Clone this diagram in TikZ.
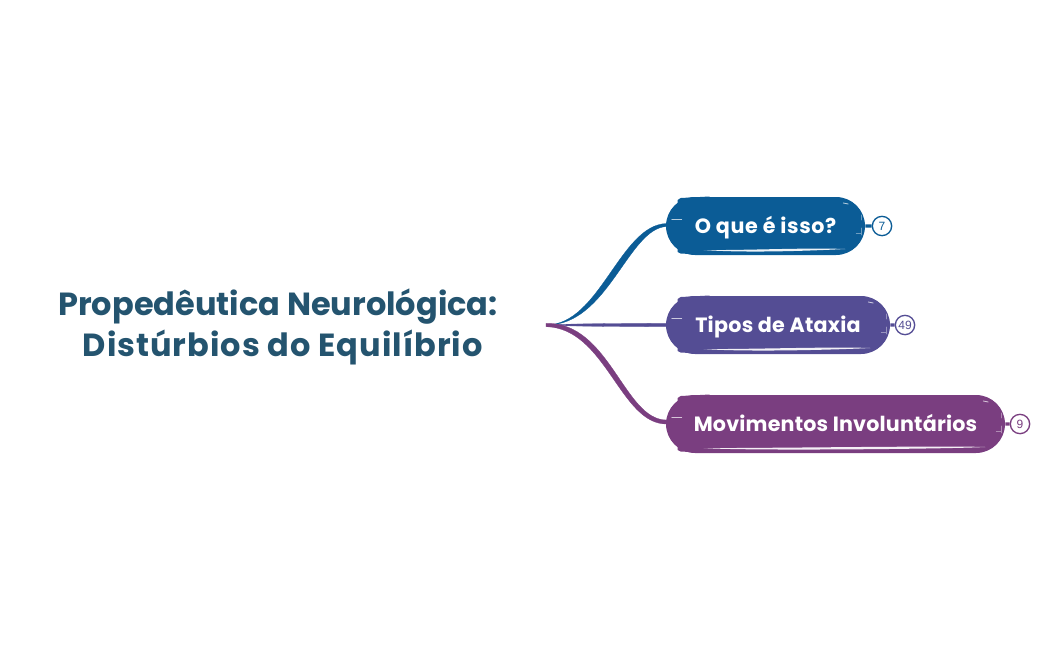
\documentclass[tikz,border=0pt]{standalone}
\usepackage{fontspec}
\setmainfont{Poppins}
\newfontfamily\badgefont{Liberation Sans}
\usetikzlibrary{shapes.misc,positioning}
\definecolor{titleblue}{HTML}{24546F}
\definecolor{whatblue}{HTML}{0B5C96}
\definecolor{typespurple}{HTML}{544D94}
\definecolor{movesplum}{HTML}{7A3E80}

\begin{document}
\begin{tikzpicture}[x=.75pt,y=-.75pt]
	\tikzset{TopicStyle/.style =
	{shape = rounded rectangle,
		fill = #1,
		text = white,
		minimum height = 43.5pt,
		inner sep = 0pt,
		text height = 14.5pt,
		text depth = 3pt,
		font = \fontsize{15.5}{18}\selectfont\bfseries},
	BadgeStyle/.style =
	{draw = #1,
		fill = white,
		shape = circle,
		line width = 1pt,
		minimum size = 14.5pt,
		inner sep = 0pt,
		text = #1,
		font = \badgefont\fontsize{9}{10}\selectfont},
	StemStyle/.style =
	{draw = #1,
		line width = 2.6pt},
	BranchStyle/.style =
	{fill = #1,
		draw = #1,
		line width = .2pt},
	GlintStyle/.style =
	{draw = #1,
		line width = .6pt,
		line cap = round}}
\useasboundingbox (0,0) rectangle (1050,650);

\node[align = center, text = titleblue, font = \fontsize{24}{30.5}\selectfont\bfseries] (root) at (278,327)
	{Propedêutica Neurológica:\\\hspace*{7pt}\addfontfeature{LetterSpace=3.1}Distúrbios do Equilíbrio};
\coordinate (hub) at (546,325);

\node[TopicStyle = whatblue, minimum width = 149.25pt] (what) at (765.5,226) {\addfontfeature{LetterSpace=2.8}O que é isso?};
\node[TopicStyle = typespurple, minimum width = 168pt] (types) at (778,325) {\addfontfeature{LetterSpace=1.2}Tipos de Ataxia};
\node[TopicStyle = movesplum, minimum width = 254.25pt] (moves) at (835.5,424) {\addfontfeature{LetterSpace=.9}Movimentos Involuntários};

\node[BadgeStyle = whatblue] (whatnum) at (882,226) {7};
\node[BadgeStyle = typespurple] (typesnum) at (905,325) {49};
\node[BadgeStyle = movesplum] (movesnum) at (1020,424) {9};

\draw[StemStyle = whatblue] (what) -- (whatnum);
\draw[StemStyle = typespurple] (types) -- (typesnum);
\draw[StemStyle = movesplum] (moves) -- (movesnum);

% branches, thin at the hub
\draw[BranchStyle = whatblue] (hub) .. controls (600,325) and (620,224.5) .. ([shift={(1,-2.5)}]what.west)
	-- ([shift={(1,.5)}]what.west) .. controls (628,228) and (608,326) .. (hub);
\draw[BranchStyle = typespurple] (hub) .. controls (575,323.5) and (620,323.5) .. ([shift={(1,-1.7)}]types.west)
	-- ([shift={(1,1.7)}]types.west) .. controls (620,326.5) and (575,326.5) .. (hub);
\draw[BranchStyle = movesplum] ([shift={(0,-1.7)}]hub) .. controls (610,322) and (624,420.5) .. ([shift={(1,-4)}]moves.west)
	-- ([shift={(1,0)}]moves.west) .. controls (620,424.5) and (606,328) .. ([shift={(0,1.7)}]hub) -- cycle;

% rough edges and glints of the pills
\foreach \name/\col in {what/whatblue,types/typespurple,moves/movesplum} {
	\fill[\col] ([shift={(12,-26)}]\name.west) -- ([shift={(15,-28)}]\name.west) -- ([shift={(44,-29.5)}]\name.west) -- ([shift={(44,-25)}]\name.west) -- ([shift={(12,-22)}]\name.west) -- cycle;
	\fill[\col] ([shift={(12,26)}]\name.west) -- ([shift={(15,27.5)}]\name.west) -- ([shift={(44,29)}]\name.west) -- ([shift={(44,25)}]\name.west) -- ([shift={(12,22)}]\name.west) -- cycle;
	\draw[GlintStyle = white!70!\col] ([shift={(6,-7)}]\name.west) -- ([shift={(16,-7)}]\name.west);
	\draw[GlintStyle = white!70!\col] ([shift={(-22,-23)}]\name.east) -- ([shift={(-17,-22)}]\name.east);
	\draw[GlintStyle = white!40!\col] ([shift={(-4,-11)}]\name.east) -- ([shift={(-4,-6)}]\name.east);
	\draw[GlintStyle = white!40!\col] ([shift={(-4,2)}]\name.east) -- ([shift={(-4,9)}]\name.east);
	\draw[GlintStyle = white!40!\col] ([shift={(-9,7)}]\name.east) -- ([shift={(-4,7)}]\name.east);
	\fill[white!92!\col] ([shift={(38,24)}]\name.west) .. controls ([shift={(80,24.5)}]\name.west) and ([shift={(-60,21.5)}]\name.east) .. ([shift={(-20,23)}]\name.east)
		.. controls ([shift={(-60,25)}]\name.east) and ([shift={(80,27)}]\name.west) .. ([shift={(38,24)}]\name.west) -- cycle;
}
\end{tikzpicture}
\end{document}
